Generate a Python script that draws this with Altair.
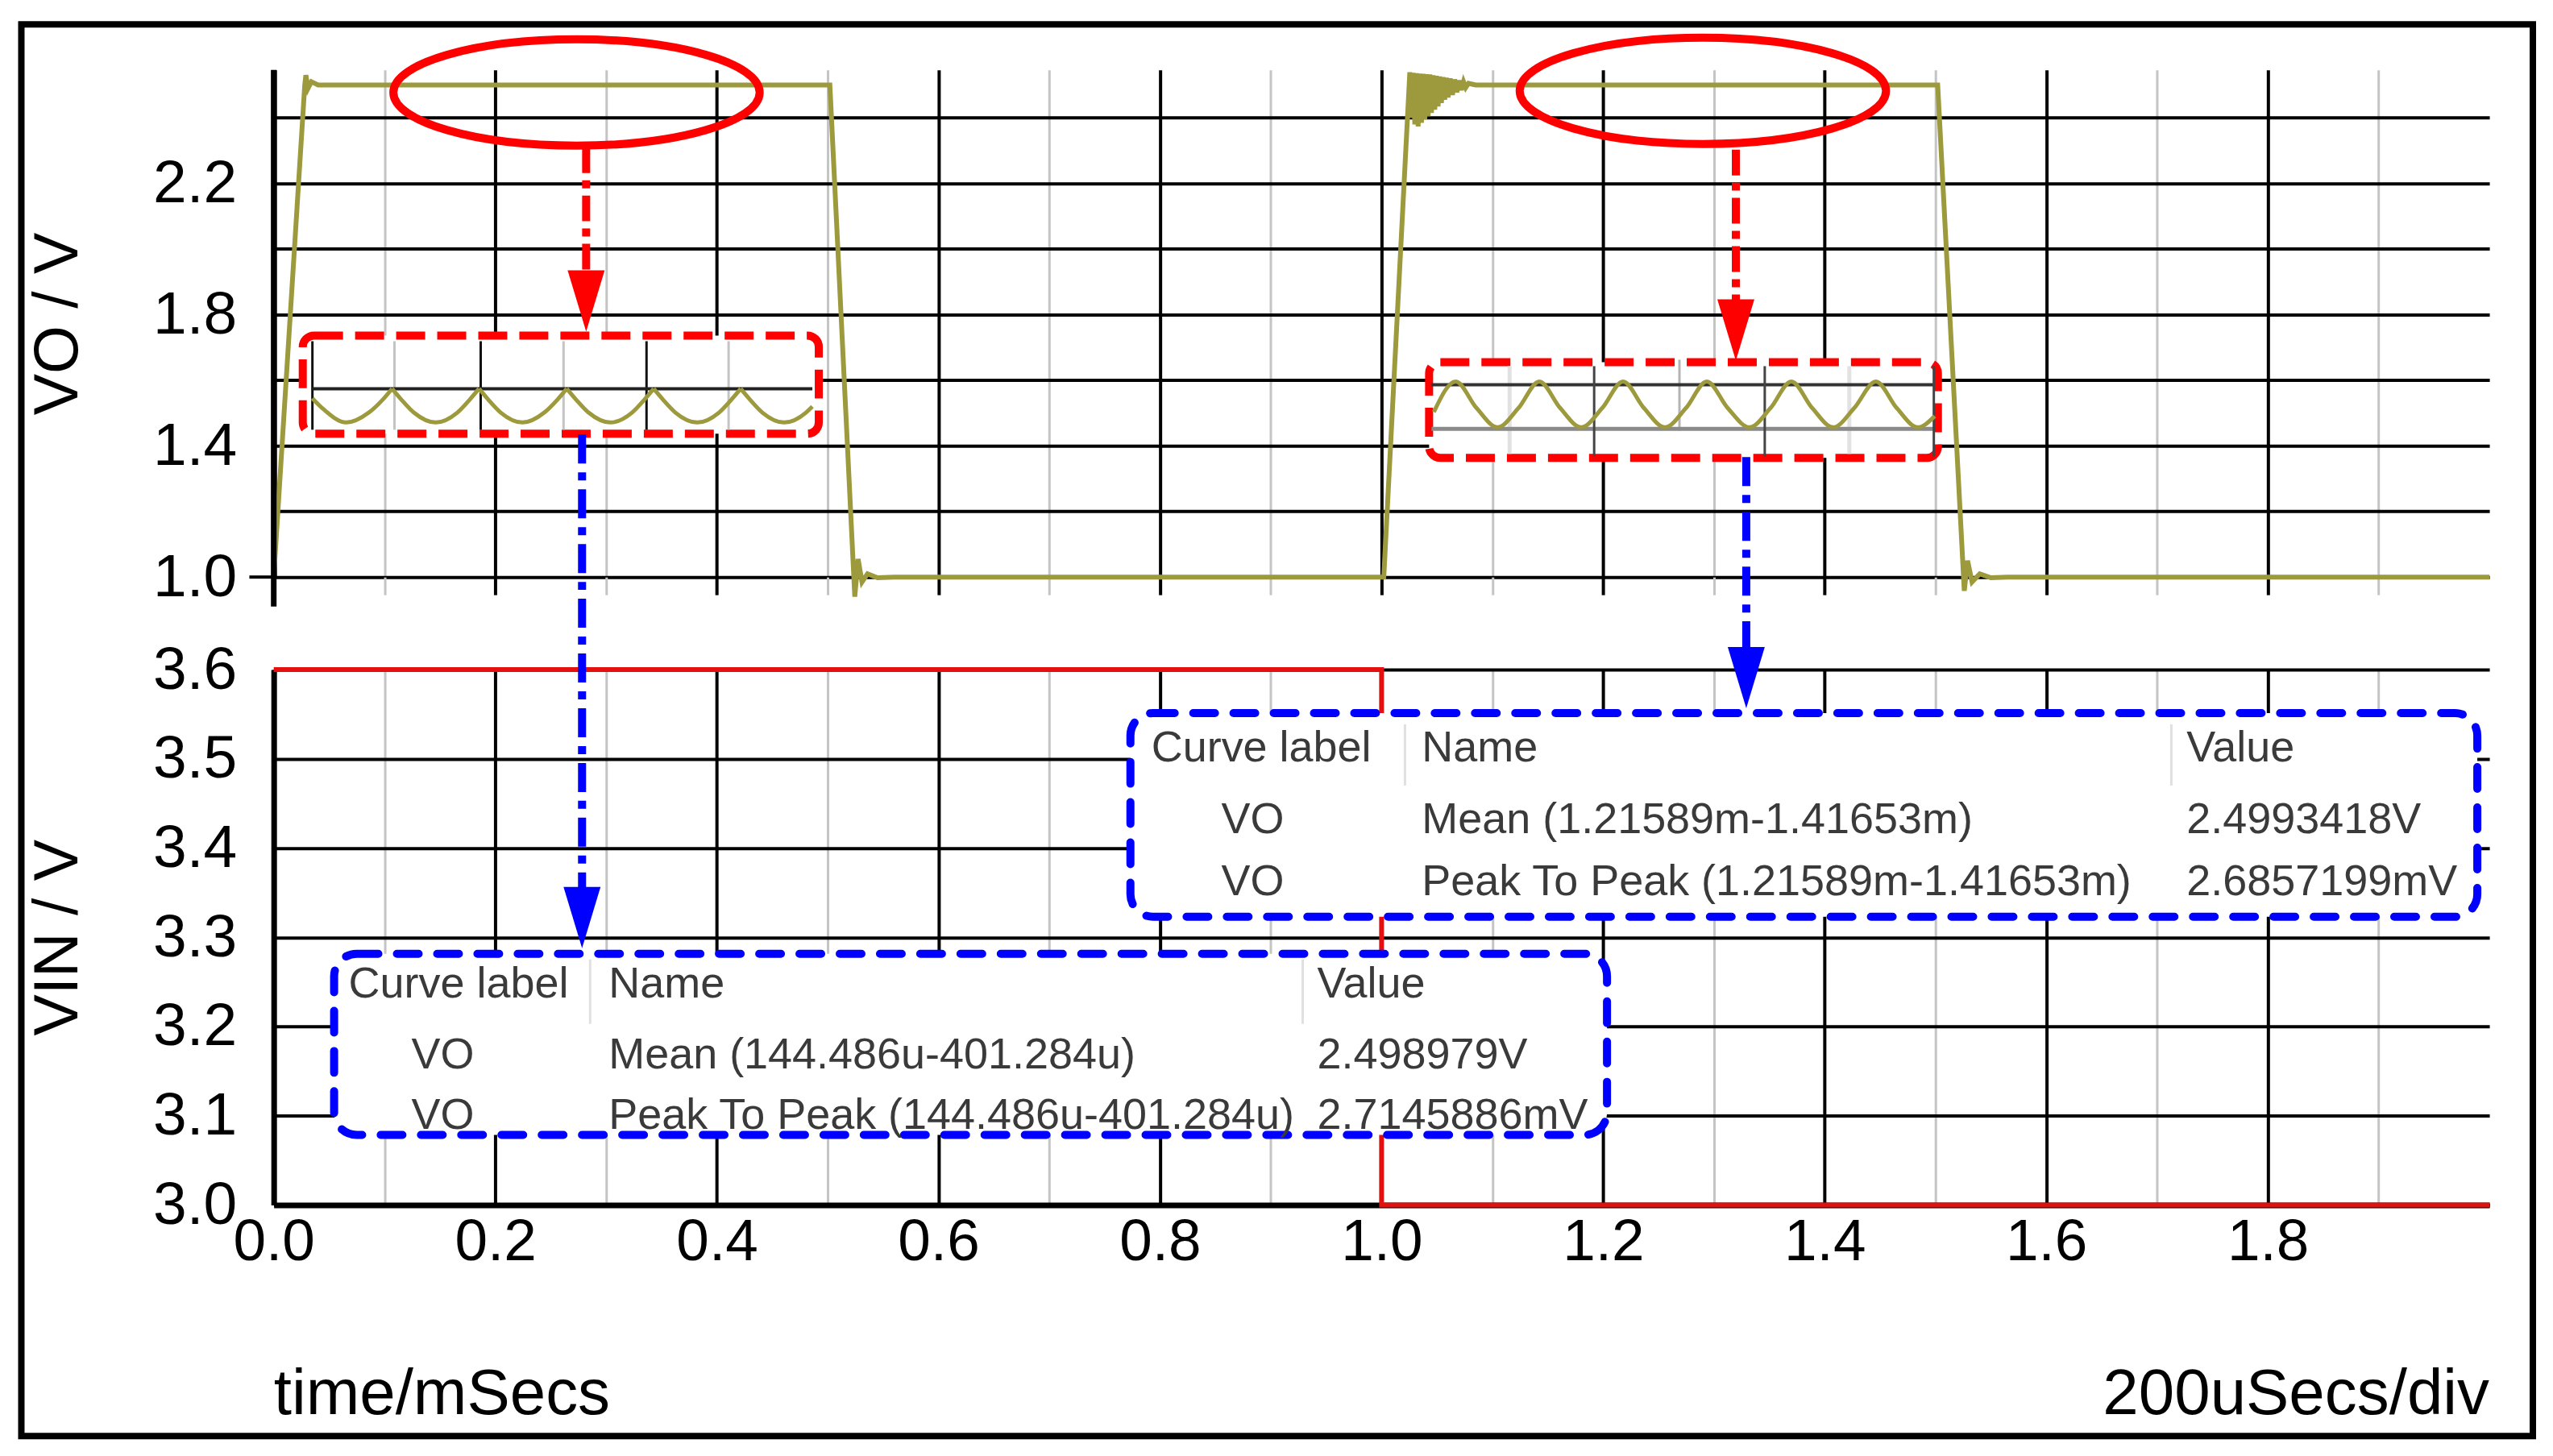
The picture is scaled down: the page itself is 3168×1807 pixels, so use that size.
import altair as alt
import pandas as pd

FONT = "Liberation Sans"
OLIVE = "#9c9a3c"
RED = "#ff0000"
BLUE = "#0000ff"

# ---------------- data ----------------
# VO waveform (time in ms, volts)
vo_t = [0.000, 0.028, 0.029, 0.031, 0.034, 0.040, 0.502, 0.5245, 0.5275, 0.531, 0.536, 0.545, 0.560,
        1.002, 1.0255, 1.0270, 1.0285, 1.0300, 1.0315, 1.0330, 1.0345, 1.0360, 1.0375, 1.0390,
        1.0405, 1.0420, 1.0435, 1.0450, 1.0465, 1.0480, 1.0495, 1.0510, 1.0525, 1.0540, 1.0555,
        1.0570, 1.0585, 1.0600, 1.0620, 1.0640, 1.0660, 1.0680, 1.0700, 1.0720, 1.0740, 1.0760,
        1.0785, 1.085,
        1.502, 1.526, 1.529, 1.533, 1.540, 1.550, 1.565, 2.000]
vo_v = [1.00, 2.50, 2.53, 2.49, 2.51, 2.50, 2.50, 0.94, 1.055, 0.985, 1.01, 0.998, 1.00,
        1.00, 2.539, 2.40, 2.537, 2.38, 2.536, 2.374, 2.535, 2.385, 2.534, 2.395,
        2.533, 2.405, 2.532, 2.415, 2.530, 2.425, 2.528, 2.435, 2.526, 2.445, 2.524,
        2.455, 2.522, 2.462, 2.520, 2.470, 2.517, 2.478, 2.514, 2.485, 2.510, 2.492,
        2.505, 2.50,
        2.50, 0.958, 1.05, 0.985, 1.01, 0.998, 1.00, 1.00]

# VIN waveform
vin_t = [0.0, 1.0, 1.0, 2.0]
vin_v = [3.6, 3.6, 3.0, 3.0]
vin_order = [0, 1, 2, 3]

# axis ticks
x_ticks = [0.0, 0.1, 0.2, 0.3, 0.4, 0.5, 0.6, 0.7, 0.8, 0.9, 1.0, 1.1, 1.2, 1.3, 1.4, 1.5, 1.6, 1.7, 1.8, 1.9]
vo_ticks = [1.0, 1.2, 1.4, 1.6, 1.8, 2.0, 2.2, 2.4]
vin_ticks = [3.0, 3.1, 3.2, 3.3, 3.4, 3.5, 3.6]
X_DOMAIN = [0.0, 2.0]
VO_DOMAIN = [1.0, 2.546]
VIN_DOMAIN = [3.0, 3.6]

# ripple inset 1 (scallops, one segment per arch)
rip1_seg = [0] * 6 + [1] * 7 + [2] * 7 + [3] * 7 + [4] * 7 + [5] * 6
rip1_t = [0.0349, 0.0443, 0.0654, 0.0858, 0.0988, 0.1068,
          0.1068, 0.1148, 0.1265, 0.1461, 0.1657, 0.1773, 0.1853,
          0.1853, 0.1933, 0.2049, 0.2246, 0.2442, 0.2565, 0.2645,
          0.2645, 0.2725, 0.2842, 0.3038, 0.3234, 0.3350, 0.3430,
          0.3430, 0.3510, 0.3626, 0.3823, 0.4019, 0.4135, 0.4215,
          0.4215, 0.4295, 0.4411, 0.4608, 0.4804, 0.4862]
rip1_v = [1.5448, 1.5136, 1.4712, 1.5014, 1.5424, 1.5742,
          1.5742, 1.5424, 1.5014, 1.4712, 1.5014, 1.5424, 1.5742,
          1.5742, 1.5424, 1.5014, 1.4712, 1.5014, 1.5424, 1.5742,
          1.5742, 1.5424, 1.5014, 1.4712, 1.5014, 1.5424, 1.5742,
          1.5742, 1.5424, 1.5014, 1.4712, 1.5014, 1.5424, 1.5742,
          1.5742, 1.5424, 1.5014, 1.4712, 1.5014, 1.5202]
# ripple inset 2 (sine-like)
rip2_t = [1.0472, 1.0669, 1.0858, 1.1047, 1.1235, 1.1424, 1.1613, 1.1802, 1.1991, 1.2180, 1.2369,
          1.2558, 1.2747, 1.2936, 1.3125, 1.3321, 1.3510, 1.3699, 1.3888, 1.4077, 1.4266, 1.4462,
          1.4651, 1.4840, 1.4993]
rip2_v = [1.5031, 1.5963, 1.515, 1.4564, 1.515, 1.5963, 1.515, 1.4564, 1.515, 1.5963, 1.515,
          1.4564, 1.515, 1.5963, 1.515, 1.4564, 1.515, 1.5963, 1.515, 1.4564, 1.515, 1.5963,
          1.515, 1.4564, 1.4908]

# inset 1 mini-grid
ins1_h_t = [0.0349]
ins1_h_t2 = [0.4862]
ins1_h_v = [1.5742]
ins1_black_t = [0.0349, 0.1868, 0.3365]
ins1_gray_t = [0.1090, 0.2616, 0.4106]
ins1_lo, ins1_hi = 1.4491, 1.7190
# inset 2 mini-grid
ins2_h_t = [1.0451]
ins2_h_t2 = [1.4993]
ins2_dark_v = [1.5865]
ins2_base_v = [1.4515]
ins2_dark_t = [1.1919, 1.3459, 1.4985]
ins2_mid_t = [1.2689]
ins2_light_t = [1.1156, 1.4222]

# red dashed boxes (ms, V)
rbox_t1 = [0.0262, 1.0429]
rbox_t2 = [0.4920, 1.5022]
rbox_v1 = [1.4368, 1.3632]
rbox_v2 = [1.7362, 1.6552]
# red ellipses
ell_t = [0.2733, 1.2900]
ell_v = [2.4773, 2.4822]
# red arrows
rarr_t = [0.2820, 1.3198]
rarr_from = [2.3104, 2.3031]
rarr_to = [1.9202, 1.8344]
rhead_v = [1.8417, 1.7534]

# blue boxes (ms, VIN units)
bbox_t1 = [0.0545, 0.7733]
bbox_t2 = [1.2035, 1.9891]
bbox_v1 = [3.0785, 3.3230]
bbox_v2 = [3.2815, 3.5513]
# blue arrows
barr_t = [0.2783, 1.3292]
barr_from = [3.8635, 3.8382]
barr_to = [3.3519, 3.6199]
bhead_v = [3.3221, 3.5910]
# column separators
sep_t = [0.2856, 0.9288, 1.0211, 1.7129]
sep_lo = [3.2030, 3.2030, 3.4701, 3.4701]
sep_hi = [3.2752, 3.2752, 3.5387, 3.5387]
# table text
tbl_t = [0.0676, 0.3023, 0.9419, 0.1243, 0.3023, 0.9419, 0.1243, 0.3023, 0.9419,
         0.7922, 1.0363, 1.7267, 0.8554, 1.0363, 1.7267, 0.8554, 1.0363, 1.7267]
tbl_v = [3.2328, 3.2328, 3.2328, 3.1534, 3.1534, 3.1534, 3.0857, 3.0857, 3.0857,
         3.4971, 3.4971, 3.4971, 3.4168, 3.4168, 3.4168, 3.3474, 3.3474, 3.3474]
tbl_txt = ["Curve label", "Name", "Value",
           "VO", "Mean (144.486u-401.284u)", "2.498979V",
           "VO", "Peak To Peak (144.486u-401.284u)", "2.7145886mV",
           "Curve label", "Name", "Value",
           "VO", "Mean (1.21589m-1.41653m)", "2.4993418V",
           "VO", "Peak To Peak (1.21589m-1.41653m)", "2.6857199mV"]

# ---------------- scales / axes ----------------
xs = alt.Scale(domain=X_DOMAIN, nice=False, zero=False)
ys_top = alt.Scale(domain=VO_DOMAIN, nice=False, zero=False)
ys_bot = alt.Scale(domain=VIN_DOMAIN, nice=False, zero=False)

even = "round(datum.value * 10) % 2 === 0"
grid_color = {"condition": {"test": even, "value": "#000000"}, "value": "#c4c4c4"}
grid_width = {"condition": {"test": even, "value": 4}, "value": 3}

top_x_axis = alt.Axis(values=x_ticks, labels=False, domain=False, ticks=True, tickSize=22,
                      tickColor=grid_color, tickWidth=grid_width, grid=True,
                      gridColor=grid_color, gridWidth=grid_width, title="")
top_y_axis = alt.Axis(values=vo_ticks,
                      labelExpr="round(datum.value*10) % 4 === 2 ? format(datum.value, '.1f') : ''",
                      grid=True, gridColor="#000000", gridWidth=4,
                      domain=True, domainColor="#000000", domainWidth=7, ticks=False,
                      labelFont=FONT, labelFontSize=75, labelColor="#000000", labelPadding=46,
                      labelFlush=False, labelOverlap=False,
                      title="VO / V", titleFont=FONT, titleFontSize=77, titleFontWeight="normal",
                      titleColor="#000000", titlePadding=78)
bot_x_axis = alt.Axis(values=x_ticks,
                      labelExpr="round(datum.value*10) % 2 === 0 ? format(datum.value, '.1f') : ''",
                      labelFont=FONT, labelFontSize=73, labelColor="#000000", labelPadding=10,
                      labelFlush=False, labelOverlap=False,
                      domain=True, domainColor="#000000", domainWidth=7, ticks=False,
                      grid=True, gridColor=grid_color, gridWidth=grid_width, title="")
bot_y_axis = alt.Axis(values=vin_ticks, labelExpr="format(datum.value, '.1f')",
                      grid=True, gridColor="#000000", gridWidth=4,
                      domain=True, domainColor="#000000", domainWidth=7, ticks=False,
                      labelFont=FONT, labelFontSize=75, labelColor="#000000", labelPadding=46,
                      labelFlush=False, labelOverlap=False,
                      title="VIN / V", titleFont=FONT, titleFontSize=77, titleFontWeight="normal",
                      titleColor="#000000", titlePadding=78)

one = pd.DataFrame({"k": [0]})

ELLIPSE = ("M -1 0 C -1 -0.1602 -0.5523 -0.29 0 -0.29 C 0.5523 -0.29 1 -0.1602 1 0 "
           "C 1 0.1602 0.5523 0.29 0 0.29 C -0.5523 0.29 -1 0.1602 -1 0 Z")
TRI_DOWN = "M -0.605 -1 L 0.605 -1 L 0 1 Z"


def vrules(ts, lo, hi, color, width, yscale):
    df = pd.DataFrame({"t": ts, "lo": [lo] * len(ts), "hi": [hi] * len(ts)})
    return alt.Chart(df).mark_rule(color=color, strokeWidth=width).encode(
        x=alt.X("t:Q", scale=xs), y=alt.Y("lo:Q", scale=yscale), y2="hi:Q")


def hrules(t1, t2, vs, color, width, yscale):
    df = pd.DataFrame({"t": t1, "t2": t2, "v": vs})
    return alt.Chart(df).mark_rule(color=color, strokeWidth=width).encode(
        x=alt.X("t:Q", scale=xs), x2="t2:Q", y=alt.Y("v:Q", scale=yscale))


# ---------------- top panel ----------------
vo_line = alt.Chart(pd.DataFrame({"t": vo_t, "v": vo_v})).mark_line(
    color=OLIVE, strokeWidth=6).encode(
    x=alt.X("t:Q", scale=xs, axis=top_x_axis),
    y=alt.Y("v:Q", scale=ys_top, axis=top_y_axis))

yaxis_ext = alt.Chart(one).mark_rule(color="#000000", strokeWidth=7).encode(
    x=alt.datum(0.0), y=alt.datum(0.91), y2=alt.datum(2.546))
tick_one = alt.Chart(one).mark_rule(color="#000000", strokeWidth=4).encode(
    x=alt.datum(-0.022), x2=alt.datum(0.0), y=alt.datum(1.0))

red_boxes = alt.Chart(pd.DataFrame({"t1": rbox_t1, "t2": rbox_t2, "v1": rbox_v1, "v2": rbox_v2})).mark_rect(
    fill="#ffffff", stroke=RED, strokeWidth=10, strokeDash=[36, 15], cornerRadius=14).encode(
    x=alt.X("t1:Q", scale=xs), x2="t2:Q", y=alt.Y("v1:Q", scale=ys_top), y2="v2:Q")

ins1_layers = [
    vrules(ins1_gray_t, ins1_lo, ins1_hi, "#c4c4c4", 3, ys_top),
    vrules(ins1_black_t, ins1_lo, ins1_hi, "#111111", 3, ys_top),
    hrules(ins1_h_t, ins1_h_t2, ins1_h_v, "#222222", 4, ys_top),
]
ins2_layers = [
    vrules(ins2_light_t, 1.3755, 1.6430, "#e2e2e2", 5, ys_top),
    vrules(ins2_mid_t, 1.4466, 1.6626, "#b4b4b4", 3, ys_top),
    hrules(ins2_h_t, ins2_h_t2, ins2_base_v, "#8a8a8a", 5, ys_top),
    hrules(ins2_h_t, ins2_h_t2, ins2_dark_v, "#333333", 4, ys_top),
    vrules(ins2_dark_t, 1.3680, 1.6430, "#444444", 3, ys_top),
]

rip1 = alt.Chart(pd.DataFrame({"seg": rip1_seg, "t": rip1_t, "v": rip1_v})).mark_line(
    color=OLIVE, strokeWidth=5, interpolate="monotone").encode(
    x=alt.X("t:Q", scale=xs), y=alt.Y("v:Q", scale=ys_top), detail="seg:N")
rip2 = alt.Chart(pd.DataFrame({"t": rip2_t, "v": rip2_v})).mark_line(
    color=OLIVE, strokeWidth=5, interpolate="monotone").encode(
    x=alt.X("t:Q", scale=xs), y=alt.Y("v:Q", scale=ys_top))

ellipses = alt.Chart(pd.DataFrame({"t": ell_t, "v": ell_v})).mark_point(
    shape=ELLIPSE, size=207025, filled=False, stroke=RED, strokeWidth=10, opacity=1).encode(
    x=alt.X("t:Q", scale=xs), y=alt.Y("v:Q", scale=ys_top))

red_arrow_lines = alt.Chart(pd.DataFrame({"t": rarr_t, "a": rarr_from, "b": rarr_to})).mark_rule(
    color=RED, strokeWidth=10, strokeDash=[32, 9, 10, 9]).encode(
    x=alt.X("t:Q", scale=xs), y=alt.Y("a:Q", scale=ys_top), y2="b:Q")
red_heads = alt.Chart(pd.DataFrame({"t": rarr_t, "v": rhead_v})).mark_point(
    shape=TRI_DOWN, size=5776, filled=True, fill=RED, strokeWidth=0, opacity=1).encode(
    x=alt.X("t:Q", scale=xs), y=alt.Y("v:Q", scale=ys_top))

frame = alt.Chart(one).mark_rect(fill="transparent", stroke="#000000", strokeWidth=8).encode(
    x=alt.value(-313.5), x2=alt.value(2806), y=alt.value(-56.5), y2=alt.value(1697))

top = alt.layer(vo_line, yaxis_ext, tick_one, red_boxes, *ins1_layers, *ins2_layers,
                rip1, rip2, ellipses, red_arrow_lines, red_heads, frame).properties(
    width=2752, height=630)

# ---------------- bottom panel ----------------
vin_line = alt.Chart(pd.DataFrame({"t": vin_t, "v": vin_v, "o": vin_order})).mark_line(
    color="#e31010", strokeWidth=6).encode(
    x=alt.X("t:Q", scale=xs, axis=bot_x_axis),
    y=alt.Y("v:Q", scale=ys_bot, axis=bot_y_axis),
    order="o:Q")

blue_boxes = alt.Chart(pd.DataFrame({"t1": bbox_t1, "t2": bbox_t2, "v1": bbox_v1, "v2": bbox_v2})).mark_rect(
    fill="#ffffff", stroke=BLUE, strokeWidth=10, strokeDash=[27, 23], strokeCap="round",
    cornerRadius=28).encode(
    x=alt.X("t1:Q", scale=xs), x2="t2:Q", y=alt.Y("v1:Q", scale=ys_bot), y2="v2:Q")

seps = alt.Chart(pd.DataFrame({"t": sep_t, "lo": sep_lo, "hi": sep_hi})).mark_rule(
    color="#e0e0e0", strokeWidth=3).encode(
    x=alt.X("t:Q", scale=xs), y=alt.Y("lo:Q", scale=ys_bot), y2="hi:Q")

table = alt.Chart(pd.DataFrame({"t": tbl_t, "v": tbl_v, "txt": tbl_txt})).mark_text(
    align="left", baseline="alphabetic", font=FONT, fontSize=54, color="#3a3a3a").encode(
    x=alt.X("t:Q", scale=xs), y=alt.Y("v:Q", scale=ys_bot), text="txt:N")

blue_arrow_lines = alt.Chart(pd.DataFrame({"t": barr_t, "a": barr_from, "b": barr_to})).mark_rule(
    color=BLUE, strokeWidth=10, strokeDash=[36, 11, 10, 11]).encode(
    x=alt.X("t:Q", scale=xs), y=alt.Y("a:Q", scale=ys_bot), y2="b:Q")
blue_heads = alt.Chart(pd.DataFrame({"t": barr_t, "v": bhead_v})).mark_point(
    shape=TRI_DOWN, size=5776, filled=True, fill=BLUE, strokeWidth=0, opacity=1).encode(
    x=alt.X("t:Q", scale=xs), y=alt.Y("v:Q", scale=ys_bot))

time_label = alt.Chart(one).mark_text(
    text="time/mSecs", align="left", baseline="alphabetic", font=FONT, fontSize=80,
    color="#000000").encode(x=alt.datum(0.0), y=alt.value(925))
div_label = alt.Chart(one).mark_text(
    text="200uSecs/div", align="right", baseline="alphabetic", font=FONT, fontSize=80,
    color="#000000").encode(x=alt.datum(2.0), y=alt.value(925))

bottom = alt.layer(vin_line, blue_boxes, seps, table, blue_arrow_lines, blue_heads,
                   time_label, div_label).properties(width=2752, height=665)

chart = alt.vconcat(top, bottom, spacing=115, bounds="flush").properties(
    padding={"left": 14, "top": 17, "right": 12, "bottom": 12},
    background="#ffffff",
).configure_view(stroke="transparent")

chart.save("out.html", embed_options={"renderer": "svg", "actions": False})
